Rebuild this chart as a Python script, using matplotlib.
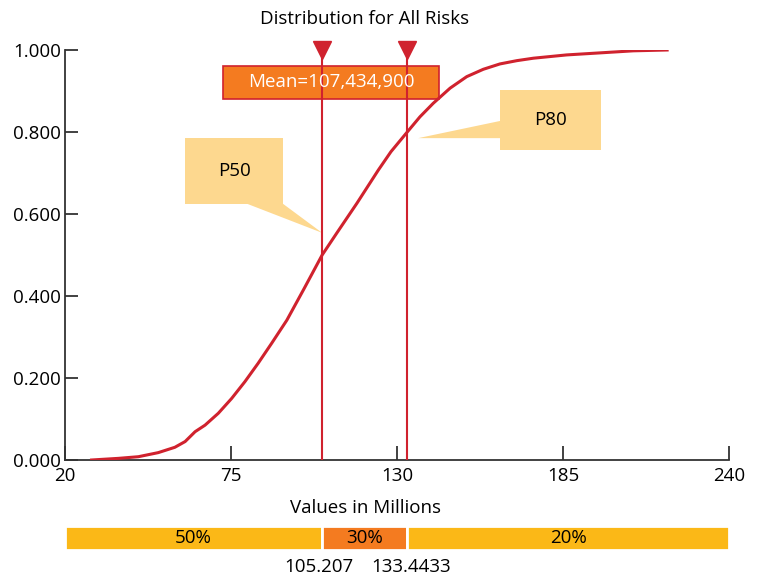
import matplotlib
matplotlib.use("Agg")
import matplotlib.pyplot as plt
from matplotlib.patches import Rectangle, Polygon

plt.rcParams['font.family'] = ['Open Sans', 'DejaVu Sans']

'''
cumulative distribution for all risks, values read off the reference chart
'''

# cumulative curve (x in millions, y = probability)
cdf_x = [28.8, 37.7, 44.3, 50.9, 56.4, 59.8, 63.1, 66.4, 70.8, 75.2, 79.6,
         84.0, 88.5, 93.5, 99.0, 105.2, 110.0, 116.7, 123.8, 128.0, 133.4,
         137.6, 142.0, 147.6, 153.1, 158.6, 164.1, 169.7, 175.2, 186.2,
         197.3, 208.3, 219.5]
cdf_y = [0.000, 0.004, 0.008, 0.018, 0.031, 0.045, 0.069, 0.085, 0.114, 0.150, 0.191,
         0.236, 0.285, 0.341, 0.415, 0.500, 0.553, 0.626, 0.707, 0.752, 0.800,
         0.837, 0.870, 0.907, 0.935, 0.953, 0.966, 0.974, 0.980, 0.988,
         0.993, 0.998, 1.000]

p50 = 105.207
p80 = 133.4433
mean_label = "Mean=107,434,900"
callout_labels = ["P50", "P80"]

band_edges = [20, p50, p80, 240]
band_labels = ["50%", "30%", "20%"]
edge_labels = ["105.207", "133.4433"]

x_ticks = [20, 75, 130, 185, 240]
y_ticks = [0.0, 0.2, 0.4, 0.6, 0.8, 1.0]

red = "#D0222E"
orange = "#F47B20"
yellow = "#FBB817"
pale = "#FDD88F"
fs = 13.5

W, H = 757, 579
fig = plt.figure(figsize=(W / 100, H / 100), dpi=100)
ax = fig.add_axes([65 / W, 1 - 460 / H, 664 / W, 410 / H])

ax.plot(cdf_x, cdf_y, color=red, lw=2.2, zorder=4, solid_joinstyle='round')

# percentile markers
ax.vlines([p50, p80], 0, 1.0, color=red, lw=1.5, zorder=3, clip_on=False)
ax.plot([p50, p80], [1.0, 1.0], 'v', color=red, markersize=13, zorder=5, clip_on=False)

# mean box
ax.add_patch(Rectangle((72.4, 0.880), 71.5, 0.081, facecolor=orange, edgecolor=red,
                       lw=1.2, zorder=2, clip_on=False))
ax.text(108.1, 0.921, mean_label, color="white", fontsize=fs, ha='center', va='center', zorder=6)

# P50 callout
ax.add_patch(Rectangle((59.8, 0.624), 32.4, 0.161, facecolor=pale, edgecolor='none', zorder=1))
ax.add_patch(Polygon([(80.3, 0.625), (p50, 0.554), (92.2, 0.625)], closed=True,
                     facecolor=pale, edgecolor='none', zorder=1))
ax.text(76.0, 0.706, callout_labels[0], fontsize=fs, ha='center', va='center', zorder=2)

# P80 callout
ax.add_patch(Rectangle((164.1, 0.756), 33.5, 0.146, facecolor=pale, edgecolor='none', zorder=1))
ax.add_patch(Polygon([(164.2, 0.827), (137.0, 0.785), (164.2, 0.785)], closed=True,
                     facecolor=pale, edgecolor='none', zorder=1))
ax.text(180.9, 0.829, callout_labels[1], fontsize=fs, ha='center', va='center', zorder=2)

ax.set_xlim(20, 240)
ax.set_ylim(0, 1)
ax.set_xticks(x_ticks)
ax.set_xticklabels([str(t) for t in x_ticks])
ax.set_yticks(y_ticks)
ax.set_yticklabels([f"{t:.3f}" for t in y_ticks])
ax.spines['top'].set_visible(False)
ax.spines['right'].set_visible(False)
for s in ['left', 'bottom']:
    ax.spines[s].set_color('#333333')
    ax.spines[s].set_linewidth(1.3)
ax.tick_params(axis='both', direction='in', colors='#333333', labelcolor='black',
               labelsize=fs, width=1.3)
ax.tick_params(axis='y', length=9, pad=3)
ax.tick_params(axis='x', length=10, pad=5)

fig.text(365 / W, 1 - 19 / H, "Distribution for All Risks", fontsize=fs, ha='center', va='center')
fig.text(366 / W, 1 - 508 / H, "Values in Millions", fontsize=fs, ha='center', va='center')

# percentile band below the chart
ax2 = fig.add_axes([65 / W, 29 / H, 664 / W, 24 / H])
lefts = band_edges[:-1]
widths = [b - a for a, b in zip(band_edges[:-1], band_edges[1:])]
ax2.barh(0, widths, left=lefts, height=1, color=[yellow, orange, yellow],
         edgecolor='white', linewidth=2)
for a, w, lab in zip(lefts, widths, band_labels):
    ax2.text(a + w / 2, 0, lab, fontsize=fs, ha='center', va='center')
ax2.set_xlim(20, 240)
ax2.set_ylim(-0.5, 0.5)
ax2.axis('off')

for xv, lab, dx in zip([p50, p80], edge_labels, [-3, 4]):
    ax2.annotate(lab, (xv, -0.5), xytext=(dx, -17), textcoords='offset pixels',
                 fontsize=fs, ha='center', va='center', annotation_clip=False)

fig.savefig("out.png", dpi=100)
